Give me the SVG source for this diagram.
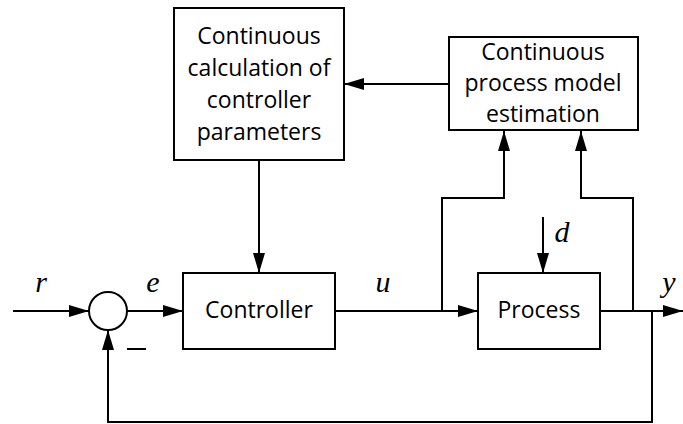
<svg xmlns="http://www.w3.org/2000/svg" width="683" height="424" viewBox="0 0 683 424">
<style>
.box{fill:#fff;stroke:#000;stroke-width:2}
.ln{fill:none;stroke:#000;stroke-width:2}
.t{font-family:"Open Sans",Lato,sans-serif;font-size:23px;fill:#000;text-anchor:middle}
.v{font-family:"Liberation Serif",serif;font-style:italic;font-size:30px;fill:#000;text-anchor:middle}
</style>
<defs>
<marker id="ah" markerUnits="userSpaceOnUse" markerWidth="20" markerHeight="12" refX="20" refY="6" orient="auto">
<path d="M0,0 L20,6 L0,12 Z" fill="#000"/>
</marker>
</defs>
<g id="connectors">
<line class="ln" x1="13" y1="311" x2="89" y2="311" marker-end="url(#ah)"/>
<line class="ln" x1="127" y1="311" x2="183" y2="311" marker-end="url(#ah)"/>
<line class="ln" x1="335" y1="311" x2="478" y2="311" marker-end="url(#ah)"/>
<line class="ln" x1="600" y1="311" x2="683" y2="311" marker-end="url(#ah)"/>
<polyline class="ln" points="442,311 442,198 504,198 504,131" marker-end="url(#ah)"/>
<polyline class="ln" points="633,311 633,198 581,198 581,131" marker-end="url(#ah)"/>
<polyline class="ln" points="652,311 652,422 108,422 108,330" marker-end="url(#ah)"/>
<line class="ln" x1="449" y1="84" x2="344" y2="84" marker-end="url(#ah)"/>
<line class="ln" x1="259" y1="160" x2="259" y2="273" marker-end="url(#ah)"/>
<line class="ln" x1="543" y1="217" x2="543" y2="273" marker-end="url(#ah)"/>
<line class="ln" x1="127" y1="349" x2="146" y2="349"/>
</g>
<g id="sum">
<circle cx="108" cy="311" r="19" class="box"/>
</g>
<g id="calc">
<rect class="box" x="174" y="8" width="170" height="152"/>
<text class="t" x="259" y="44">Continuous</text>
<text class="t" x="259" y="76">calculation of</text>
<text class="t" x="259" y="108">controller</text>
<text class="t" x="259" y="140">parameters</text>
</g>
<g id="estim">
<rect class="box" x="449" y="37" width="189" height="93"/>
<text class="t" x="543" y="60">Continuous</text>
<text class="t" x="543" y="91">process model</text>
<text class="t" x="543" y="122">estimation</text>
</g>
<g id="controller">
<rect class="box" x="183" y="273" width="152" height="76"/>
<text class="t" x="259" y="318">Controller</text>
</g>
<g id="process">
<rect class="box" x="478" y="273" width="122" height="76"/>
<text class="t" x="539" y="318">Process</text>
</g>
<g id="labels">
<text class="v" x="41" y="292">r</text>
<text class="v" x="153" y="292">e</text>
<text class="v" x="383" y="292">u</text>
<text class="v" x="562" y="242">d</text>
<text class="v" x="669" y="292">y</text>
</g>
</svg>
